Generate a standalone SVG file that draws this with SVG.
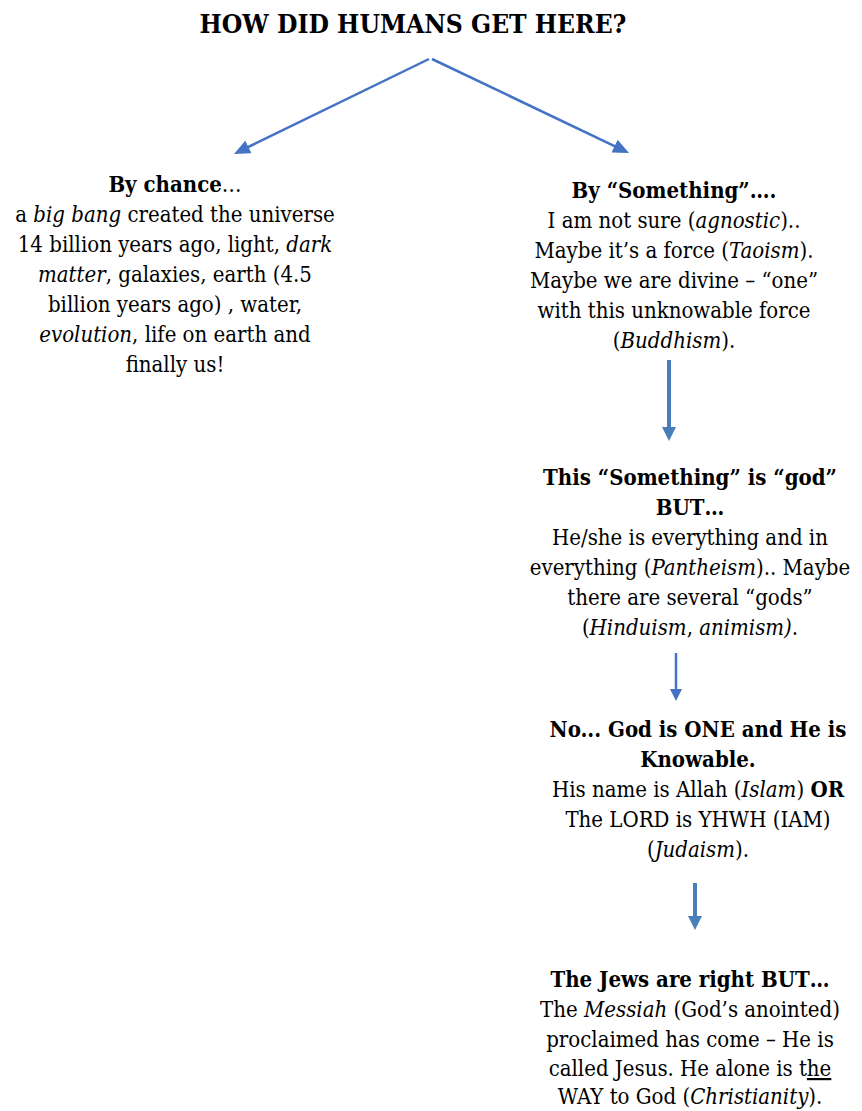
<svg xmlns="http://www.w3.org/2000/svg" width="862" height="1111" viewBox="0 0 862 1111">
<style>
text{font-family:'DejaVu Serif Condensed','DejaVu Serif',serif;font-stretch:condensed;font-size:22px;fill:#000;text-anchor:middle}
.t{font-size:26.2px;font-weight:bold}
.b{font-weight:bold}
.i{font-style:italic}
.u{text-decoration:underline}
.c{fill:none;stroke:#4A7EBB}
</style>
<defs>
<marker id="ah" markerUnits="userSpaceOnUse" markerWidth="16" markerHeight="14" refX="4" refY="7" orient="auto" viewBox="0 0 16 14">
<path d="M0,0 L16,7 L0,14 z" fill="#4472C4"/>
</marker>
<marker id="av" markerUnits="userSpaceOnUse" markerWidth="14" markerHeight="14" refX="2" refY="7" orient="auto" viewBox="0 0 14 14">
<path d="M0,0 L14,7 L0,14 z" fill="#4A7EBB"/>
</marker>
<marker id="as" markerUnits="userSpaceOnUse" markerWidth="12" markerHeight="12" refX="2" refY="6" orient="auto" viewBox="0 0 12 12">
<path d="M0,0 L12,6 L0,12 z" fill="#4472C4"/>
</marker>
</defs>
<g id="title"><text class="t" x="413" y="33">HOW DID HUMANS GET HERE?</text></g>
<g id="connectors">
<line x1="429" y1="59" x2="244.8" y2="148.7" stroke="#4472C4" stroke-width="2.5" marker-end="url(#ah)"/>
<line x1="432" y1="59" x2="618.2" y2="147.8" stroke="#4472C4" stroke-width="2.5" marker-end="url(#ah)"/>
<line class="c" x1="669" y1="360" x2="669" y2="429" stroke-width="4" marker-end="url(#av)"/>
<line x1="676" y1="653" x2="676" y2="691" stroke="#4472C4" stroke-width="2.5" marker-end="url(#as)"/>
<line class="c" x1="695" y1="883" x2="695" y2="918" stroke-width="4" marker-end="url(#av)"/>
</g>
<g id="chance">
<text x="175" y="192"><tspan class="b">By chance</tspan>…</text>
<text x="175" y="222">a <tspan class="i">big bang</tspan> created the universe</text>
<text x="175" y="252">14 billion years ago, light, <tspan class="i">dark</tspan></text>
<text x="175" y="282"><tspan class="i">matter</tspan>, galaxies, earth (4.5</text>
<text x="175" y="312">billion years ago) , water,</text>
<text x="175" y="342"><tspan class="i">evolution</tspan>, life on earth and</text>
<text x="175" y="372">finally us!</text>
</g>
<g id="something">
<text class="b" x="674" y="198">By “Something”….</text>
<text x="674" y="228">I am not sure (<tspan class="i">agnostic</tspan>)..</text>
<text x="674" y="258">Maybe it’s a force (<tspan class="i">Taoism</tspan>).</text>
<text x="674" y="288">Maybe we are divine – “one”</text>
<text x="674" y="318">with this unknowable force</text>
<text x="674" y="348">(<tspan class="i">Buddhism</tspan>).</text>
</g>
<g id="god">
<text class="b" x="690" y="485">This “Something” is “god”</text>
<text class="b" x="690" y="515">BUT…</text>
<text x="690" y="545">He/she is everything and in</text>
<text x="690" y="575">everything (<tspan class="i">Pantheism</tspan>).. Maybe</text>
<text x="690" y="605">there are several “gods”</text>
<text x="690" y="635">(<tspan class="i">Hinduism</tspan>, <tspan class="i">animism)</tspan>.</text>
</g>
<g id="one">
<text class="b" x="698" y="737">No... God is ONE and He is</text>
<text class="b" x="698" y="767">Knowable.</text>
<text x="698" y="797">His name is Allah (<tspan class="i">Islam</tspan>) <tspan class="b">OR</tspan></text>
<text x="698" y="827">The LORD is YHWH (IAM)</text>
<text x="698" y="857">(<tspan class="i">Judaism</tspan>).</text>
</g>
<g id="jesus">
<text class="b" x="690" y="987">The Jews are right BUT…</text>
<text x="690" y="1017">The <tspan class="i">Messiah</tspan> (God’s anointed)</text>
<text x="690" y="1047">proclaimed has come – He is</text>
<text x="690" y="1076">called Jesus. He alone is t<tspan class="u">he</tspan></text>
<text x="690" y="1104">WAY to God (<tspan class="i">Christianity</tspan>).</text>
</g>
</svg>
